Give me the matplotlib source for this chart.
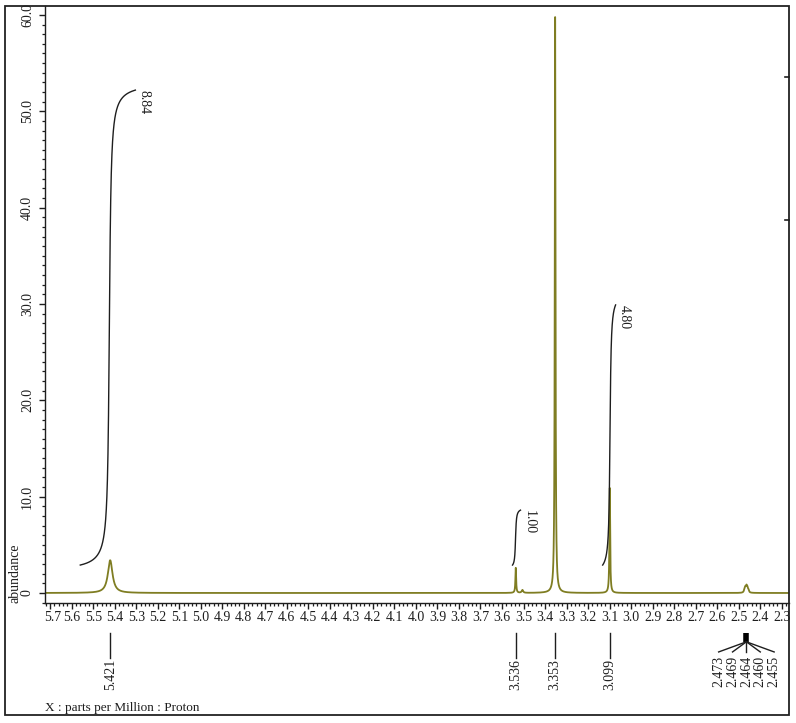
import numpy as np
import matplotlib.pyplot as plt
from matplotlib.ticker import MultipleLocator, FixedLocator
import matplotlib.transforms as mtransforms
from matplotlib.patches import Rectangle

plt.rcParams['font.family'] = ['Liberation Serif', 'DejaVu Serif']

# peaks of the 1H spectrum (ppm, height, half width)
peak_ppm = [5.421, 3.536, 3.505, 3.353, 3.099, 2.473, 2.469, 2.464, 2.460, 2.455]
peak_height = [3.4, 2.6, 0.3, 59.8, 10.9, 0.25, 0.45, 0.55, 0.45, 0.25]
peak_hw = [0.013, 0.002, 0.004, 0.002, 0.002, 0.003, 0.003, 0.003, 0.003, 0.003]

# peak pick labels
label_ppm = [5.421, 3.536, 3.353, 3.099]
label_text = ['5.421', '3.536', '3.353', '3.099']
multiplet_center = 2.464
multiplet_text = ['2.473', '2.469', '2.464', '2.460', '2.455']

# integrals
int_start = [5.560, 3.551, 3.132]
int_end = [5.304, 3.514, 3.072]
int_center = [5.425, 3.537, 3.098]
int_hw = [0.006, 0.003, 0.004]
int_y0 = [2.9, 2.9, 2.9]
int_y1 = [52.2, 8.6, 29.9]
int_text = ['8.84', '1.00', '4.80']

x_ticks = [round(5.7 - 0.1 * i, 1) for i in range(35)]
y_ticks = [0, 10, 20, 30, 40, 50, 60]
y_ticklabels = ['0', '10.0', '20.0', '30.0', '40.0', '50.0', '60.0']

spec_col = '#7f7d22'
ink = '#1e1e1e'
fs = 10

fig = plt.figure(figsize=(7.96, 7.23), dpi=100)
ax = fig.add_axes([45 / 796, 1 - 603 / 723, 744 / 796, 597 / 723])

# spectrum as a sum of lorentzians
xx = np.linspace(5.724, 2.266, 40000)
yy = np.zeros_like(xx)
for p, h, w in zip(peak_ppm, peak_height, peak_hw):
    yy += h / (1 + ((xx - p) / w) ** 2)
ax.plot(xx, yy, color=spec_col, lw=1.3, zorder=2)

# integral curves
for s, e, c, w, y0, y1, t in zip(int_start, int_end, int_center, int_hw, int_y0, int_y1, int_text):
    xi = np.linspace(s, e, 600)
    u = np.arctan((c - xi) * -1 / w)
    frac = (u - u[0]) / (u[-1] - u[0])
    ax.plot(xi, y0 + (y1 - y0) * frac, color=ink, lw=1.0, zorder=3)
    ax.annotate(t, xy=(e, y1), xytext=(6, 0), textcoords='offset points',
                rotation=-90, ha='center', va='top', fontsize=fs, color=ink)

ax.set_xlim(5.724, 2.266)
ax.set_ylim(-1.04, 60.93)

ax.xaxis.set_major_locator(FixedLocator(x_ticks))
ax.set_xticklabels([f'{v:.1f}' for v in x_ticks])
ax.xaxis.set_minor_locator(MultipleLocator(0.02))
ax.set_yticks(y_ticks)
ax.set_yticklabels(y_ticklabels, rotation=90, va='center')
ax.yaxis.set_minor_locator(MultipleLocator(1))

ax.tick_params(axis='both', which='major', direction='out', length=4, width=1.0,
               labelsize=fs, colors=ink, pad=2)
ax.tick_params(axis='both', which='minor', direction='out', length=2.5, width=0.9, colors=ink)
ax.tick_params(axis='y', which='major', pad=4)

# first x label sits a little to the right, inside the frame
first = ax.get_xticklabels()[0]
first.set_transform(first.get_transform() +
                    mtransforms.ScaledTranslation(3 / 100, 0, fig.dpi_scale_trans))

for side in ['top', 'right']:
    ax.spines[side].set_visible(False)
for side in ['left', 'bottom']:
    ax.spines[side].set_linewidth(1.0)
    ax.spines[side].set_color(ink)

# peak pick marks under the axis
trans = mtransforms.blended_transform_factory(ax.transData, ax.transAxes)
for p, t in zip(label_ppm, label_text):
    ax.plot([p, p], [-0.050, -0.092], color=ink, lw=1.0, transform=trans, clip_on=False)
    ax.text(p, -0.094, t, rotation=90, ha='center', va='top', fontsize=fs,
            color=ink, transform=trans)

ax.plot([multiplet_center, multiplet_center], [-0.050, -0.065], color='black', lw=4,
        transform=trans, clip_on=False, solid_capstyle='butt')
spread = 0.0645
for i, t in enumerate(multiplet_text):
    lx = multiplet_center + (2 - i) * spread
    ax.plot([multiplet_center, lx], [-0.065, -0.082], color=ink, lw=1.0,
            transform=trans, clip_on=False)
    ax.text(lx, -0.088, t, rotation=90, ha='center', va='top', fontsize=fs,
            color=ink, transform=trans)

# outer frame and labels
fig.patches.append(Rectangle((5 / 796, 1 - 715 / 723), 784 / 796, 709 / 723,
                             transform=fig.transFigure, fill=False, lw=1.3,
                             edgecolor='#222222'))
for py in [77, 220]:
    fig.lines.append(plt.Line2D([785 / 796, 789 / 796], [1 - py / 723, 1 - py / 723],
                                transform=fig.transFigure, color=ink, lw=1.2))

fig.text(15 / 796, 1 - 573 / 723, 'abundance', rotation=90, ha='center', va='center',
         fontsize=fs, color=ink)
fig.text(45 / 796, 1 - 708 / 723, 'X : parts per Million : Proton', ha='left',
         va='center', fontsize=9.5, color=ink)

fig.savefig('out.png', dpi=100)
